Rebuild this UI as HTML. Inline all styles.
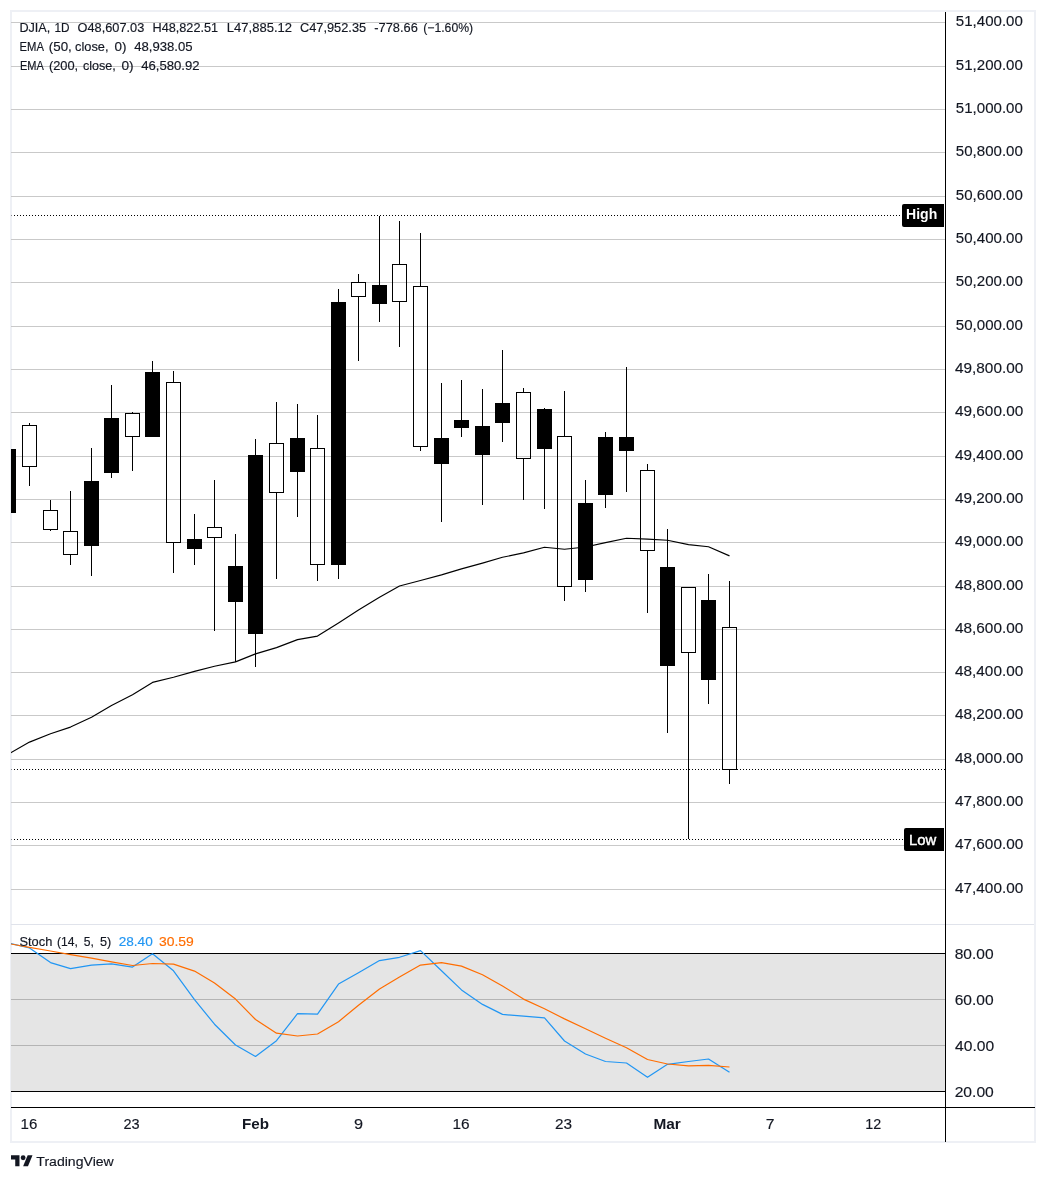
<!DOCTYPE html>
<html lang="en"><head><meta charset="utf-8"><title>DJIA chart</title>
<style>html,body{margin:0;padding:0;background:#fff;}body{width:1046px;height:1181px;overflow:hidden;}svg{display:block;}text{font-family:'Liberation Sans', 'DejaVu Sans', sans-serif;}</style>
</head><body>
<svg width="1046" height="1181" viewBox="0 0 1046 1181">
<rect x="0" y="0" width="1046" height="1181" fill="#ffffff"/>
<defs><clipPath id="paneclip"><rect x="11" y="12" width="934" height="1095"/></clipPath></defs>
<g shape-rendering="crispEdges">
<rect x="11" y="11" width="1024" height="1131" fill="none" stroke="#eef0f5" stroke-width="2"/>
<rect x="11" y="953" width="934" height="138" fill="#e5e5e5"/>
<rect x="11" y="22" width="934" height="1" fill="#c9c9c9"/>
<rect x="11" y="66" width="934" height="1" fill="#c9c9c9"/>
<rect x="11" y="109" width="934" height="1" fill="#c9c9c9"/>
<rect x="11" y="152" width="934" height="1" fill="#c9c9c9"/>
<rect x="11" y="196" width="934" height="1" fill="#c9c9c9"/>
<rect x="11" y="239" width="934" height="1" fill="#c9c9c9"/>
<rect x="11" y="282" width="934" height="1" fill="#c9c9c9"/>
<rect x="11" y="326" width="934" height="1" fill="#c9c9c9"/>
<rect x="11" y="369" width="934" height="1" fill="#c9c9c9"/>
<rect x="11" y="412" width="934" height="1" fill="#c9c9c9"/>
<rect x="11" y="456" width="934" height="1" fill="#c9c9c9"/>
<rect x="11" y="499" width="934" height="1" fill="#c9c9c9"/>
<rect x="11" y="542" width="934" height="1" fill="#c9c9c9"/>
<rect x="11" y="586" width="934" height="1" fill="#c9c9c9"/>
<rect x="11" y="629" width="934" height="1" fill="#c9c9c9"/>
<rect x="11" y="672" width="934" height="1" fill="#c9c9c9"/>
<rect x="11" y="715" width="934" height="1" fill="#c9c9c9"/>
<rect x="11" y="759" width="934" height="1" fill="#c9c9c9"/>
<rect x="11" y="802" width="934" height="1" fill="#c9c9c9"/>
<rect x="11" y="845" width="893" height="1" fill="#c9c9c9"/>
<rect x="11" y="889" width="934" height="1" fill="#c9c9c9"/>
<rect x="11" y="924" width="1023" height="1" fill="#e0e3eb"/>
<rect x="11" y="999" width="934" height="1" fill="#b4b4b4"/>
<rect x="11" y="1045" width="934" height="1" fill="#b4b4b4"/>
<rect x="11" y="953" width="934" height="1" fill="#000"/>
<rect x="11" y="1091" width="934" height="1" fill="#000"/>
<line x1="14" y1="215.5" x2="902" y2="215.5" stroke="#000" stroke-width="1" stroke-dasharray="1 2"/>
<line x1="14" y1="769.5" x2="945" y2="769.5" stroke="#000" stroke-width="1" stroke-dasharray="1 2"/>
<line x1="14" y1="839.5" x2="904" y2="839.5" stroke="#000" stroke-width="1" stroke-dasharray="1 2"/>
<rect x="11" y="215" width="1" height="1" fill="#8a8a8f"/>
<rect x="11" y="769" width="1" height="1" fill="#8a8a8f"/>
<rect x="11" y="839" width="1" height="1" fill="#8a8a8f"/>
</g>
<g shape-rendering="crispEdges" clip-path="url(#paneclip)">
<rect x="8" y="449" width="1" height="64" fill="#000"/>
<rect x="1" y="449" width="15" height="64" fill="#000"/>
<rect x="29" y="423" width="1" height="2" fill="#000"/>
<rect x="29" y="467" width="1" height="19" fill="#000"/>
<rect x="22.5" y="425.5" width="14" height="41" fill="none" stroke="#000" stroke-width="1"/>
<rect x="50" y="500" width="1" height="10" fill="#000"/>
<rect x="50" y="530" width="1" height="1" fill="#000"/>
<rect x="43.5" y="510.5" width="14" height="19" fill="none" stroke="#000" stroke-width="1"/>
<rect x="70" y="491" width="1" height="40" fill="#000"/>
<rect x="70" y="555" width="1" height="10" fill="#000"/>
<rect x="63.5" y="531.5" width="14" height="23" fill="none" stroke="#000" stroke-width="1"/>
<rect x="91" y="448" width="1" height="128" fill="#000"/>
<rect x="84" y="481" width="15" height="65" fill="#000"/>
<rect x="111" y="385" width="1" height="93" fill="#000"/>
<rect x="104" y="418" width="15" height="55" fill="#000"/>
<rect x="132" y="412" width="1" height="1" fill="#000"/>
<rect x="132" y="437" width="1" height="34" fill="#000"/>
<rect x="125.5" y="413.5" width="14" height="23" fill="none" stroke="#000" stroke-width="1"/>
<rect x="152" y="361" width="1" height="76" fill="#000"/>
<rect x="145" y="372" width="15" height="65" fill="#000"/>
<rect x="173" y="371" width="1" height="11" fill="#000"/>
<rect x="173" y="543" width="1" height="30" fill="#000"/>
<rect x="166.5" y="382.5" width="14" height="160" fill="none" stroke="#000" stroke-width="1"/>
<rect x="194" y="514" width="1" height="51" fill="#000"/>
<rect x="187" y="539" width="15" height="10" fill="#000"/>
<rect x="214" y="480" width="1" height="47" fill="#000"/>
<rect x="214" y="538" width="1" height="93" fill="#000"/>
<rect x="207.5" y="527.5" width="14" height="10" fill="none" stroke="#000" stroke-width="1"/>
<rect x="235" y="534" width="1" height="128" fill="#000"/>
<rect x="228" y="566" width="15" height="36" fill="#000"/>
<rect x="255" y="439" width="1" height="228" fill="#000"/>
<rect x="248" y="455" width="15" height="179" fill="#000"/>
<rect x="276" y="402" width="1" height="41" fill="#000"/>
<rect x="276" y="493" width="1" height="86" fill="#000"/>
<rect x="269.5" y="443.5" width="14" height="49" fill="none" stroke="#000" stroke-width="1"/>
<rect x="297" y="404" width="1" height="113" fill="#000"/>
<rect x="290" y="438" width="15" height="34" fill="#000"/>
<rect x="317" y="415" width="1" height="33" fill="#000"/>
<rect x="317" y="565" width="1" height="16" fill="#000"/>
<rect x="310.5" y="448.5" width="14" height="116" fill="none" stroke="#000" stroke-width="1"/>
<rect x="338" y="289" width="1" height="290" fill="#000"/>
<rect x="331" y="302" width="15" height="263" fill="#000"/>
<rect x="358" y="274" width="1" height="8" fill="#000"/>
<rect x="358" y="297" width="1" height="64" fill="#000"/>
<rect x="351.5" y="282.5" width="14" height="14" fill="none" stroke="#000" stroke-width="1"/>
<rect x="379" y="216" width="1" height="106" fill="#000"/>
<rect x="372" y="285" width="15" height="19" fill="#000"/>
<rect x="399" y="221" width="1" height="43" fill="#000"/>
<rect x="399" y="302" width="1" height="45" fill="#000"/>
<rect x="392.5" y="264.5" width="14" height="37" fill="none" stroke="#000" stroke-width="1"/>
<rect x="420" y="233" width="1" height="53" fill="#000"/>
<rect x="420" y="447" width="1" height="4" fill="#000"/>
<rect x="413.5" y="286.5" width="14" height="160" fill="none" stroke="#000" stroke-width="1"/>
<rect x="441" y="383" width="1" height="139" fill="#000"/>
<rect x="434" y="438" width="15" height="26" fill="#000"/>
<rect x="461" y="380" width="1" height="57" fill="#000"/>
<rect x="454" y="420" width="15" height="8" fill="#000"/>
<rect x="482" y="389" width="1" height="116" fill="#000"/>
<rect x="475" y="426" width="15" height="29" fill="#000"/>
<rect x="502" y="350" width="1" height="92" fill="#000"/>
<rect x="495" y="403" width="15" height="20" fill="#000"/>
<rect x="523" y="388" width="1" height="4" fill="#000"/>
<rect x="523" y="459" width="1" height="41" fill="#000"/>
<rect x="516.5" y="392.5" width="14" height="66" fill="none" stroke="#000" stroke-width="1"/>
<rect x="544" y="408" width="1" height="101" fill="#000"/>
<rect x="537" y="409" width="15" height="40" fill="#000"/>
<rect x="564" y="391" width="1" height="45" fill="#000"/>
<rect x="564" y="587" width="1" height="14" fill="#000"/>
<rect x="557.5" y="436.5" width="14" height="150" fill="none" stroke="#000" stroke-width="1"/>
<rect x="585" y="480" width="1" height="112" fill="#000"/>
<rect x="578" y="503" width="15" height="77" fill="#000"/>
<rect x="605" y="432" width="1" height="76" fill="#000"/>
<rect x="598" y="437" width="15" height="58" fill="#000"/>
<rect x="626" y="367" width="1" height="125" fill="#000"/>
<rect x="619" y="437" width="15" height="14" fill="#000"/>
<rect x="647" y="464" width="1" height="6" fill="#000"/>
<rect x="647" y="551" width="1" height="62" fill="#000"/>
<rect x="640.5" y="470.5" width="14" height="80" fill="none" stroke="#000" stroke-width="1"/>
<rect x="667" y="529" width="1" height="204" fill="#000"/>
<rect x="660" y="567" width="15" height="99" fill="#000"/>
<rect x="688" y="653" width="1" height="186" fill="#000"/>
<rect x="681.5" y="587.5" width="14" height="65" fill="none" stroke="#000" stroke-width="1"/>
<rect x="708" y="574" width="1" height="130" fill="#000"/>
<rect x="701" y="600" width="15" height="80" fill="#000"/>
<rect x="729" y="581" width="1" height="46" fill="#000"/>
<rect x="729" y="770" width="1" height="14" fill="#000"/>
<rect x="722.5" y="627.5" width="14" height="142" fill="none" stroke="#000" stroke-width="1"/>
</g>
<polyline points="9.4,753.5 29.5,742.1 50.5,733.8 70.5,727.1 91.5,717.3 111.5,705.5 132.5,694.7 152.5,682.4 173.5,677.2 194.5,671.4 214.5,666.2 235.5,661.9 255.5,653.9 276.5,647.6 297.5,639.6 317.5,636.1 338.5,622.9 358.5,610.1 379.5,597.3 399.5,586.0 420.5,580.5 441.5,574.9 461.5,568.9 482.5,563.1 502.5,557.3 523.5,552.9 544.5,547.3 564.5,549.3 585.5,547.0 605.5,542.6 626.5,538.3 647.5,539.1 667.5,540.3 688.5,544.6 708.5,546.8 729.5,555.9" fill="none" stroke="#000" stroke-width="1.15" stroke-linejoin="round" clip-path="url(#paneclip)"/>
<polyline points="9.4,943.2 29.5,948.0 50.5,962.6 70.5,968.6 91.5,965.1 111.5,963.8 132.5,967.1 152.5,953.8 173.5,970.8 194.5,999.6 214.5,1024.2 235.5,1045.0 255.5,1056.5 276.5,1040.7 297.5,1013.7 317.5,1014.2 338.5,984.1 358.5,972.8 379.5,960.6 399.5,957.3 420.5,950.6 441.5,970.8 461.5,989.9 482.5,1004.4 502.5,1014.4 523.5,1016.2 544.5,1017.9 564.5,1041.0 585.5,1054.0 605.5,1061.5 626.5,1063.0 647.5,1077.3 667.5,1064.3 688.5,1061.5 708.5,1059.0 729.5,1072.3" fill="none" stroke="#2196f3" stroke-width="1.2" stroke-linejoin="round" clip-path="url(#paneclip)"/>
<polyline points="9.4,943.7 29.5,947.3 50.5,951.0 70.5,954.6 91.5,958.2 111.5,961.9 132.5,965.5 152.5,963.5 173.5,964.1 194.5,971.1 214.5,983.1 235.5,999.1 255.5,1019.5 276.5,1033.2 297.5,1036.0 317.5,1034.0 338.5,1021.7 358.5,1005.2 379.5,989.1 399.5,977.1 420.5,965.1 441.5,962.6 461.5,966.1 482.5,974.8 502.5,985.9 523.5,999.1 544.5,1008.7 564.5,1018.9 585.5,1028.7 605.5,1038.2 626.5,1047.7 647.5,1059.5 667.5,1064.0 688.5,1065.8 708.5,1065.3 729.5,1067.0" fill="none" stroke="#ff6d00" stroke-width="1.2" stroke-linejoin="round" clip-path="url(#paneclip)"/>
<g shape-rendering="crispEdges">
<rect x="945" y="12" width="1" height="1130" fill="#000"/>
<rect x="11" y="1107" width="1024" height="1" fill="#000"/>
</g>
<path d="M904 204h40v23h-40a2 2 0 0 1-2-2v-19a2 2 0 0 1 2-2z" fill="#000"/>
<path d="M906 828h38v23h-38a2 2 0 0 1-2-2v-19a2 2 0 0 1 2-2z" fill="#000"/>
<text id="l1a" transform="translate(19.43,32) scale(1.0369,1)" font-size="12.2" fill="#131722" stroke="#131722" stroke-width="0.15">DJIA,</text>
<text id="l1b" transform="translate(54.40,32) scale(0.9682,1)" font-size="12.2" fill="#131722" stroke="#131722" stroke-width="0.15">1D</text>
<text id="l1c" transform="translate(77.61,32) scale(1.0456,1)" font-size="12.2" fill="#131722" stroke="#131722" stroke-width="0.15">O48,607.03</text>
<text id="l1d" transform="translate(152.49,32) scale(1.0420,1)" font-size="12.2" fill="#131722" stroke="#131722" stroke-width="0.15">H48,822.51</text>
<text id="l1e" transform="translate(226.87,32) scale(1.0685,1)" font-size="12.2" fill="#131722" stroke="#131722" stroke-width="0.15">L47,885.12</text>
<text id="l1f" transform="translate(299.95,32) scale(1.0501,1)" font-size="12.2" fill="#131722" stroke="#131722" stroke-width="0.15">C47,952.35</text>
<text id="l1g" transform="translate(374.34,32) scale(1.0514,1)" font-size="12.2" fill="#131722" stroke="#131722" stroke-width="0.15">-778.66</text>
<text id="l1h" transform="translate(423.27,32) scale(1.0013,1)" font-size="12.2" fill="#131722" stroke="#131722" stroke-width="0.15">(−1.60%)</text>
<text id="l2a" transform="translate(19.53,51) scale(0.9236,1)" font-size="12.2" fill="#131722" stroke="#131722" stroke-width="0.15">EMA</text>
<text id="l2c" transform="translate(48.78,51) scale(1.0952,1)" font-size="12.2" fill="#131722" stroke="#131722" stroke-width="0.15">(50,</text>
<text id="l2d" transform="translate(75.08,51) scale(1.0488,1)" font-size="12.2" fill="#131722" stroke="#131722" stroke-width="0.15">close,</text>
<text id="l2e" transform="translate(114.61,51) scale(1.1032,1)" font-size="12.2" fill="#131722" stroke="#131722" stroke-width="0.15">0)</text>
<text id="l2b" transform="translate(134.13,51) scale(1.0780,1)" font-size="12.2" fill="#131722" stroke="#131722" stroke-width="0.15">48,938.05</text>
<text id="l3a" transform="translate(19.99,70) scale(0.9056,1)" font-size="12.2" fill="#131722" stroke="#131722" stroke-width="0.15">EMA</text>
<text id="l3c" transform="translate(48.92,70) scale(1.0538,1)" font-size="12.2" fill="#131722" stroke="#131722" stroke-width="0.15">(200,</text>
<text id="l3d" transform="translate(82.90,70) scale(1.0354,1)" font-size="12.2" fill="#131722" stroke="#131722" stroke-width="0.15">close,</text>
<text id="l3e" transform="translate(121.52,70) scale(1.1211,1)" font-size="12.2" fill="#131722" stroke="#131722" stroke-width="0.15">0)</text>
<text id="l3b" transform="translate(141.15,70) scale(1.0780,1)" font-size="12.2" fill="#131722" stroke="#131722" stroke-width="0.15">46,580.92</text>
<text id="l4a" transform="translate(19.46,946) scale(1.0543,1)" font-size="12.2" fill="#131722" stroke="#131722" stroke-width="0.15">Stoch</text>
<text id="l4d" transform="translate(57.07,946) scale(0.9958,1)" font-size="12.2" fill="#131722" stroke="#131722" stroke-width="0.15">(14,</text>
<text id="l4e" transform="translate(83.87,946) scale(0.9964,1)" font-size="12.2" fill="#131722" stroke="#131722" stroke-width="0.15">5,</text>
<text id="l4f" transform="translate(99.89,946) scale(1.0412,1)" font-size="12.2" fill="#131722" stroke="#131722" stroke-width="0.15">5)</text>
<text id="l4b" transform="translate(118.65,946) scale(1.1175,1)" font-size="12.2" fill="#2196f3" stroke="#2196f3" stroke-width="0.15">28.40</text>
<text id="l4c" transform="translate(158.97,946) scale(1.1399,1)" font-size="12.2" fill="#ff6d00" stroke="#ff6d00" stroke-width="0.15">30.59</text>
<text id="tvt" transform="translate(36.33,1166) scale(1.0429,1)" font-size="13.5" fill="#131722" stroke="#131722" stroke-width="0.15">TradingView</text>
<text id="thi" transform="translate(906.05,219) scale(0.9625,1)" font-size="14.6" fill="#fff" font-weight="bold">High</text>
<text id="tlo" transform="translate(909.05,845) scale(0.9779,1)" font-size="15.2" fill="#fff" stroke="#fff" stroke-width="0.45">Low</text>
<text id="p0" transform="translate(955.87,26) scale(0.9853,1)" font-size="15.3" fill="#131722" stroke="#131722" stroke-width="0.15">51,400.00</text>
<text id="p1" transform="translate(955.87,70) scale(0.9853,1)" font-size="15.3" fill="#131722" stroke="#131722" stroke-width="0.15">51,200.00</text>
<text id="p2" transform="translate(955.87,113) scale(0.9853,1)" font-size="15.3" fill="#131722" stroke="#131722" stroke-width="0.15">51,000.00</text>
<text id="p3" transform="translate(955.87,156) scale(0.9853,1)" font-size="15.3" fill="#131722" stroke="#131722" stroke-width="0.15">50,800.00</text>
<text id="p4" transform="translate(955.87,200) scale(0.9853,1)" font-size="15.3" fill="#131722" stroke="#131722" stroke-width="0.15">50,600.00</text>
<text id="p5" transform="translate(955.87,243) scale(0.9853,1)" font-size="15.3" fill="#131722" stroke="#131722" stroke-width="0.15">50,400.00</text>
<text id="p6" transform="translate(955.87,286) scale(0.9853,1)" font-size="15.3" fill="#131722" stroke="#131722" stroke-width="0.15">50,200.00</text>
<text id="p7" transform="translate(955.87,330) scale(0.9853,1)" font-size="15.3" fill="#131722" stroke="#131722" stroke-width="0.15">50,000.00</text>
<text id="p8" transform="translate(955.02,373) scale(1.0032,1)" font-size="15.3" fill="#131722" stroke="#131722" stroke-width="0.15">49,800.00</text>
<text id="p9" transform="translate(955.02,416) scale(1.0032,1)" font-size="15.3" fill="#131722" stroke="#131722" stroke-width="0.15">49,600.00</text>
<text id="p10" transform="translate(955.02,460) scale(1.0032,1)" font-size="15.3" fill="#131722" stroke="#131722" stroke-width="0.15">49,400.00</text>
<text id="p11" transform="translate(955.02,503) scale(1.0032,1)" font-size="15.3" fill="#131722" stroke="#131722" stroke-width="0.15">49,200.00</text>
<text id="p12" transform="translate(955.02,546) scale(1.0032,1)" font-size="15.3" fill="#131722" stroke="#131722" stroke-width="0.15">49,000.00</text>
<text id="p13" transform="translate(955.02,590) scale(1.0032,1)" font-size="15.3" fill="#131722" stroke="#131722" stroke-width="0.15">48,800.00</text>
<text id="p14" transform="translate(955.02,633) scale(1.0032,1)" font-size="15.3" fill="#131722" stroke="#131722" stroke-width="0.15">48,600.00</text>
<text id="p15" transform="translate(955.02,676) scale(1.0032,1)" font-size="15.3" fill="#131722" stroke="#131722" stroke-width="0.15">48,400.00</text>
<text id="p16" transform="translate(955.02,719) scale(1.0032,1)" font-size="15.3" fill="#131722" stroke="#131722" stroke-width="0.15">48,200.00</text>
<text id="p17" transform="translate(955.02,763) scale(1.0032,1)" font-size="15.3" fill="#131722" stroke="#131722" stroke-width="0.15">48,000.00</text>
<text id="p18" transform="translate(955.02,806) scale(1.0032,1)" font-size="15.3" fill="#131722" stroke="#131722" stroke-width="0.15">47,800.00</text>
<text id="p19" transform="translate(955.02,849) scale(1.0032,1)" font-size="15.3" fill="#131722" stroke="#131722" stroke-width="0.15">47,600.00</text>
<text id="p20" transform="translate(955.02,893) scale(1.0032,1)" font-size="15.3" fill="#131722" stroke="#131722" stroke-width="0.15">47,400.00</text>
<text id="s80" transform="translate(954.67,959) scale(1.0168,1)" font-size="15.3" fill="#131722" stroke="#131722" stroke-width="0.15">80.00</text>
<text id="s60" transform="translate(954.63,1005) scale(1.0179,1)" font-size="15.3" fill="#131722" stroke="#131722" stroke-width="0.15">60.00</text>
<text id="s40" transform="translate(955.05,1051) scale(1.0216,1)" font-size="15.3" fill="#131722" stroke="#131722" stroke-width="0.15">40.00</text>
<text id="s20" transform="translate(954.63,1097) scale(1.0237,1)" font-size="15.3" fill="#131722" stroke="#131722" stroke-width="0.15">20.00</text>
<text id="t0" transform="translate(20.52,1129) scale(0.9854,1)" font-size="15.3" fill="#131722" stroke="#131722" stroke-width="0.15">16</text>
<text id="t1" transform="translate(123.46,1129) scale(0.9511,1)" font-size="15.3" fill="#131722" stroke="#131722" stroke-width="0.15">23</text>
<text id="t2" transform="translate(241.89,1129) scale(0.9937,1)" font-size="15.3" fill="#131722" font-weight="bold">Feb</text>
<text id="t3" transform="translate(353.89,1129) scale(1.0643,1)" font-size="15.3" fill="#131722" stroke="#131722" stroke-width="0.15">9</text>
<text id="t4" transform="translate(452.42,1129) scale(1.0103,1)" font-size="15.3" fill="#131722" stroke="#131722" stroke-width="0.15">16</text>
<text id="t5" transform="translate(555.01,1129) scale(1.0030,1)" font-size="15.3" fill="#131722" stroke="#131722" stroke-width="0.15">23</text>
<text id="t6" transform="translate(653.46,1129) scale(1.0078,1)" font-size="15.3" fill="#131722" font-weight="bold">Mar</text>
<text id="t7" transform="translate(765.68,1129) scale(1.0307,1)" font-size="15.3" fill="#131722" stroke="#131722" stroke-width="0.15">7</text>
<text id="t8" transform="translate(865.26,1129) scale(0.9355,1)" font-size="15.3" fill="#131722" stroke="#131722" stroke-width="0.15">12</text>
<g transform="translate(11,1152.9) scale(0.606)" fill="#131722"><path d="M14 22H7V11H0V4h14v18z"/><circle cx="20" cy="8" r="4"/><path d="M28 22h-8l7.5-18h8L28 22z"/></g>
</svg>
</body></html>
